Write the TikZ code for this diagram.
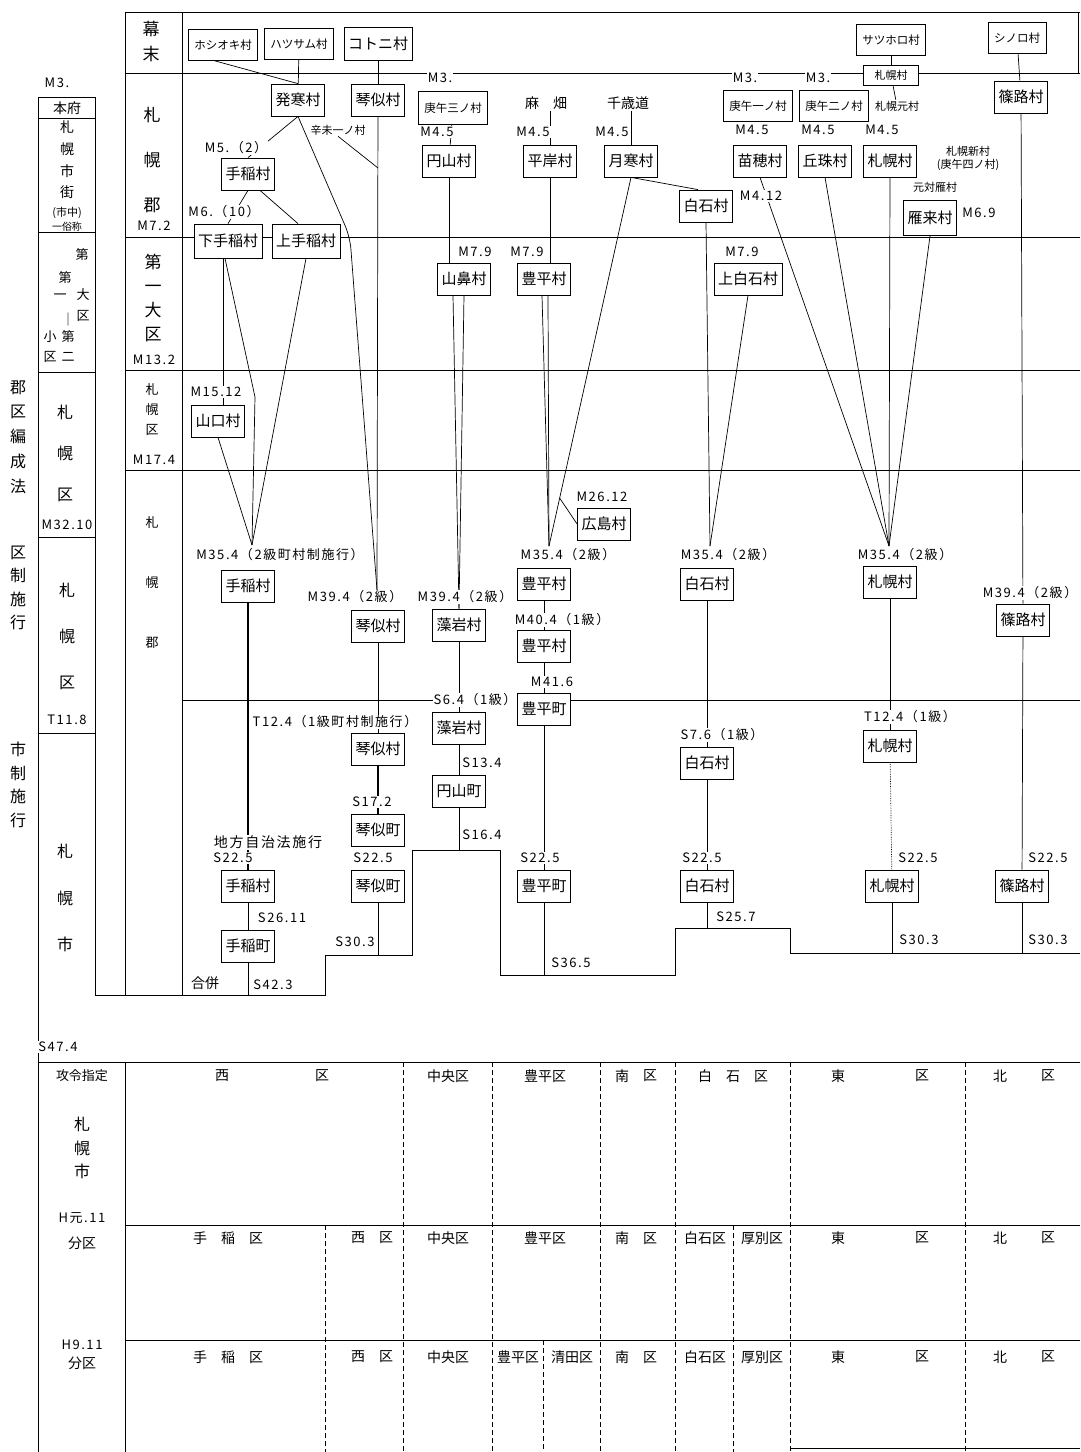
\documentclass[tikz,border=0pt]{standalone}
\usepackage{fontspec}
\setmainfont{Noto Sans CJK JP}
\newfontfamily\hizukefont[LetterSpace=12]{Noto Sans CJK JP}
\usetikzlibrary{calc}
\pgfdeclarelayer{background}
\pgfsetlayers{background,main}
\begin{document}
\begin{tikzpicture}[
        x=1pt, y=-1pt,
        mura/.style={draw, fill=white, line width=0.8pt, inner xsep=4pt, inner ysep=3pt, minimum height=32pt, font=\fontsize{15}{15}\selectfont},
        komura/.style={mura, inner xsep=6pt, minimum height=31pt, font=\fontsize{11.5}{12}\selectfont},
        hizuke/.style={fill=white, inner sep=1pt, font=\hizukefont\fontsize{13}{13}\selectfont},
        chu/.style={inner sep=1pt, align=center, font=\fontsize{11}{13}\selectfont},
        tate/.style={align=center, inner sep=0pt},
        ku/.style={inner sep=1pt, font=\fontsize{14}{14}\selectfont},
        kei/.style={line width=0.8pt},
        sen/.style={line width=0.7pt},
        kugiri/.style={line width=0.6pt, dash pattern=on 5pt off 3pt}
    ]
    \useasboundingbox (0,0) rectangle (1080,1452);

    % side headings
    \node[tate, font=\fontsize{16}{24.75}\selectfont] (gunku) at (18,437) {郡\\区\\編\\成\\法};
    \node[tate, font=\fontsize{16}{23.5}\selectfont] (kusei) at (18,588) {区\\制\\施\\行};
    \node[tate, font=\fontsize{16}{23.5}\selectfont] (shisei) at (18,785) {市\\制\\施\\行};

    \node[hizuke] (m3) at (57,83) {M3.};
    \node[font=\fontsize{14}{14}\selectfont] (honfu) at (67,108) {本府};
    \node[tate, font=\fontsize{14}{21.7}\selectfont] (shigai) at (67,160) {札\\幌\\市\\街};
    \node[font=\fontsize{11}{11}\selectfont] (shichu) at (67,213) {(市中)};
    \node[font=\fontsize{10}{10}\selectfont] (zokusho) at (67,227) {一俗称};
    \foreach \x/\y/\t [count=\i] in {82/255/第, 65/278/第, 60/297/一, 83/295/大, 83/316/区, 68/320/｜, 50/337/小, 68/337/第, 50/357/区, 68/357/二}
        \node[font=\fontsize{13}{13}\selectfont, inner sep=0pt] (dai\i) at (\x,\y) {\t};
    \node[tate, font=\fontsize{16}{41}\selectfont] (ku1) at (65,453) {札\\幌\\区};
    \node[hizuke] (m3210) at (67,525) {M32.10};
    \node[tate, font=\fontsize{16}{46}\selectfont] (ku2) at (67,636) {札\\幌\\区};
    \node[hizuke] (t118) at (67,720) {T11.8};
    \node[tate, font=\fontsize{16}{46.5}\selectfont] (shi1) at (65,898) {札\\幌\\市};

    \node[tate, font=\fontsize{17}{25}\selectfont] (bakumatsu) at (151,42) {幕\\末};
    \node[tate, font=\fontsize{17}{45}\selectfont] (gun1) at (152,160) {札\\幌\\郡};
    \node[hizuke] (m72) at (154,226) {M7.2};
    \node[tate, font=\fontsize{17}{24}\selectfont] (daiku) at (153,298) {第\\一\\大\\区};
    \node[hizuke] (m132) at (154,360) {M13.2};
    \node[tate, font=\fontsize{13}{20}\selectfont] (ku0) at (152,410) {札\\幌\\区};
    \node[hizuke] (m174) at (154,460) {M17.4};
    \node[tate, font=\fontsize{13}{60}\selectfont] (gun2) at (152,583) {札\\幌\\郡};

    % villages
    \node[komura] (hoshioki) at (223,45) {ホシオキ村};
    \node[komura] (hassamu0) at (299,44) {ハツサム村};
    \node[mura, minimum height=33pt] (kotoni0) at (378,44) {コトニ村};
    \node[komura] (satsuhoro0) at (891,40) {サツホロ村};
    \node[komura] (shinoro0) at (1017,38) {シノロ村};

    \node[mura] (hassamu) at (298,100) {発寒村};
    \node[mura] (kotoni) at (378,100) {琴似村};
    \node[chu] (shinbi) at (338,130) {辛未一ノ村};
    \node[hizuke] (m3a) at (440,78) {M3.};
    \node[komura, minimum height=33pt] (kogo3) at (453,108) {庚午三ノ村};
    \node[ku] (asahata) at (546,103) {麻　畑};
    \node[ku] (chitose) at (628,103) {千歳道};
    \node[hizuke] (m3b) at (745,78) {M3.};
    \node[hizuke] (m3c) at (818,78) {M3.};
    \node[mura, minimum height=20pt, minimum width=55pt, inner ysep=1pt, font=\fontsize{11}{11}\selectfont] (sapporo0) at (891,75) {札幌村};
    \node[komura] (kogo1) at (758,106) {庚午一ノ村};
    \node[komura] (kogo2) at (834,106) {庚午二ノ村};
    \node[chu] (motomura) at (897,106) {札幌元村};
    \node[mura] (shinoro) at (1021,97) {篠路村};

    \node[hizuke] (m5) at (236,148) {M5.（2）};
    \node[mura] (teine) at (248,174) {手稲村};
    \node[hizuke] (m6) at (224,212) {M6.（10）};
    \node[mura, minimum height=34pt] (shimoteine) at (228,241) {下手稲村};
    \node[mura, minimum height=34pt] (kamiteine) at (306,241) {上手稲村};
    \node[hizuke] (m45a) at (437,132) {M4.5};
    \node[mura] (maruyama) at (449,161) {円山村};
    \node[hizuke] (m45b) at (533,132) {M4.5};
    \node[mura] (hiragishi) at (550,161) {平岸村};
    \node[hizuke] (m45c) at (612,132) {M4.5};
    \node[mura] (tsukisamu) at (631,161) {月寒村};
    \node[mura] (shiroishi) at (706,206) {白石村};
    \node[hizuke] (m412) at (761,196) {M4.12};
    \node[hizuke] (m45d) at (752,130) {M4.5};
    \node[mura] (naebo) at (760,161) {苗穂村};
    \node[hizuke] (m45e) at (818,130) {M4.5};
    \node[mura] (okadama) at (825,161) {丘珠村};
    \node[hizuke] (m45f) at (882,130) {M4.5};
    \node[mura] (sapporo) at (890,161) {札幌村};
    \node[chu] (shinmura) at (968,158) {札幌新村\\(庚午四ノ村)};
    \node[chu] (tsuishikari) at (935,187) {元対雁村};
    \node[mura, minimum height=35pt] (kariki) at (930,218) {雁来村};
    \node[hizuke] (m69) at (979,213) {M6.9};

    \node[hizuke] (m79a) at (475,252) {M7.9};
    \node[mura] (yamahana) at (464,279) {山鼻村};
    \node[hizuke] (m79b) at (527,252) {M7.9};
    \node[mura] (toyohira1) at (544,279) {豊平村};
    \node[hizuke] (m79c) at (742,252) {M7.9};
    \node[mura] (kamishiroishi) at (748,279) {上白石村};

    \node[hizuke] (m1512) at (216,392) {M15.12};
    \node[mura] (yamaguchi) at (218,421) {山口村};

    \node[hizuke] (m2612) at (602,497) {M26.12};
    \node[mura] (hiroshima) at (604,524) {広島村};
    \node[hizuke] (m354a) at (280,555) {M35.4（2級町村制施行）};
    \node[mura] (teine2) at (248,586) {手稲村};
    \node[hizuke] (m354b) at (568,555) {M35.4（2級）};
    \node[mura] (toyohira2) at (544,584) {豊平村};
    \node[hizuke] (m404) at (562,620) {M40.4（1級）};
    \node[mura] (toyohira3) at (544,646) {豊平村};
    \node[hizuke] (m416) at (552,682) {M41.6};
    \node[mura] (toyohiracho) at (544,709) {豊平町};
    \node[hizuke] (m354c) at (728,555) {M35.4（2級）};
    \node[mura] (shiroishi2) at (707,584) {白石村};
    \node[hizuke] (m354d) at (905,555) {M35.4（2級）};
    \node[mura] (sapporo2) at (890,582) {札幌村};
    \node[hizuke] (m394a) at (355,597) {M39.4（2級）};
    \node[mura] (kotoni2) at (378,626) {琴似村};
    \node[hizuke] (m394b) at (465,597) {M39.4（2級）};
    \node[mura] (moiwa) at (459,625) {藻岩村};
    \node[hizuke] (m394c) at (1030,593) {M39.4（2級）};
    \node[mura] (shinoro2) at (1023,620) {篠路村};

    \node[hizuke] (t124a) at (335,722) {T12.4（1級町村制施行）};
    \node[mura] (kotoni3) at (378,749) {琴似村};
    \node[hizuke] (s64) at (475,700) {S6.4（1級）};
    \node[mura] (moiwa2) at (459,728) {藻岩村};
    \node[hizuke] (s134) at (482,763) {S13.4};
    \node[mura] (maruyamacho) at (459,791) {円山町};
    \node[hizuke] (s172) at (372,802) {S17.2};
    \node[mura] (kotonicho) at (378,830) {琴似町};
    \node[hizuke] (s76) at (722,735) {S7.6（1級）};
    \node[mura] (shiroishi3) at (707,763) {白石村};
    \node[hizuke] (t124b) at (910,717) {T12.4（1級）};
    \node[mura] (sapporo3) at (890,746) {札幌村};

    \node[hizuke, font=\hizukefont\fontsize{14}{14}\selectfont] (chiho) at (268,842) {地方自治法施行};
    \node[hizuke] (s225a) at (233,858) {S22.5};
    \node[mura] (teine3) at (248,886) {手稲村};
    \node[hizuke] (s2611) at (282,918) {S26.11};
    \node[mura] (teinecho) at (248,946) {手稲町};
    \node[ku] (gappei) at (205,983) {合併};
    \node[hizuke] (s423) at (273,985) {S42.3};
    \node[hizuke] (s225b) at (373,858) {S22.5};
    \node[mura] (kotonicho2) at (378,886) {琴似町};
    \node[hizuke] (s303a) at (355,942) {S30.3};
    \node[hizuke] (s164) at (482,835) {S16.4};
    \node[hizuke] (s225c) at (540,858) {S22.5};
    \node[mura] (toyohiracho2) at (544,886) {豊平町};
    \node[hizuke] (s365) at (571,963) {S36.5};
    \node[hizuke] (s225d) at (702,858) {S22.5};
    \node[mura] (shiroishi4) at (707,886) {白石村};
    \node[hizuke] (s257) at (736,917) {S25.7};
    \node[hizuke] (s225e) at (918,858) {S22.5};
    \node[mura] (sapporo4) at (892,886) {札幌村};
    \node[hizuke] (s303b) at (919,940) {S30.3};
    \node[hizuke] (s225f) at (1048,858) {S22.5};
    \node[mura] (shinoro3) at (1022,886) {篠路村};
    \node[hizuke] (s303c) at (1048,940) {S30.3};

    % wards after 1972
    \node[hizuke] (s474) at (58,1047) {S47.4};
    \node[font=\fontsize{13}{13}\selectfont] (seirei) at (82,1076) {攻令指定};
    \node[tate, font=\fontsize{16}{23.5}\selectfont] (shi2) at (82,1148) {札\\幌\\市};
    \node[hizuke] (h1) at (82,1218) {H元.11};
    \node[ku] (bunku1) at (82,1243) {分区};
    \node[hizuke] (h9) at (82,1345) {H9.11};
    \node[ku] (bunku2) at (82,1363) {分区};
    \foreach \x/\t [count=\i] in {222/西, 322/区, 448/中央区, 545/豊平区, 622/南, 650/区, 733/白　石　区, 838/東, 922/区, 1000/北, 1048/区}
        \node[ku] (ichi\i) at (\x,1076) {\t};
    \foreach \x/\t [count=\i] in {228/手　稲　区, 372/西　区, 448/中央区, 545/豊平区, 636/南　区, 705/白石区, 762/厚別区, 838/東, 922/区, 1000/北, 1048/区}
        \node[ku] (ni\i) at (\x,1238) {\t};
    \foreach \x/\t [count=\i] in {228/手　稲　区, 372/西　区, 448/中央区, 518/豊平区, 572/清田区, 636/南　区, 705/白石区, 762/厚別区, 838/東, 922/区, 1000/北, 1048/区}
        \node[ku] (san\i) at (\x,1357) {\t};

    \coordinate (teineJ) at (252,545);
    \coordinate (kotoniJ) at (377,590);
    \coordinate (toyohiraJ) at (549,546);
    \coordinate (shiroishiJ) at (710,546);
    \coordinate (sapporoJ) at (889,546);

    \begin{pgfonlayer}{background}
    % frame and rows
    \draw[kei] (125,12) -- (1080,12);
    \draw[kei] (1078,12) -- (1078,73);
    \draw[kei] (125,12) -- (125,995);
    \draw[kei] (182,12) -- (182,995);
    \foreach \y in {73,237,370,470}
        \draw[kei] (125,\y) -- (1080,\y);
    \draw[kei] (182,700) -- (1080,700);
    \draw[kei] (38,97) -- (38,1452);
    \draw[kei] (95,97) -- (95,995);
    \foreach \y in {97,118,232,372,537,733}
        \draw[kei] (38,\y) -- (95,\y);
    \draw[kei] (95,995) -- (325,995) -- (325,955) -- (412,955) -- (412,850) -- (500,850) -- (500,975)
        -- (675,975) -- (675,928) -- (790,928) -- (790,953) -- (1080,953);
    \draw[kei] (38,1062) -- (1080,1062);
    \draw[kei] (125,1062) -- (125,1452);
    \draw[kei] (125,1225) -- (1080,1225);
    \draw[kei] (125,1340) -- (1080,1340);
    \draw[kei] (790,1448) -- (1080,1448);
    \foreach \x in {403,492,600,675,790,965}
        \draw[kugiri] (\x,1062) -- (\x,1452);
    \foreach \x in {325,733}
        \draw[kugiri] (\x,1225) -- (\x,1452);
    \draw[kugiri] (543,1340) -- (543,1452);

    % lineage
    \draw[sen] ([xshift=-8pt]hoshioki.south) -- (hassamu.north);
    \draw[sen] (hassamu0) -- (hassamu);
    \draw[sen] (kotoni0) -- (kotoni);
    \draw[sen] (hassamu.south) -- (teine.north);
    \draw[sen, rounded corners=12pt] (hassamu.south) -- (350,237) -- (kotoniJ);
    \draw[sen] (kotoni) -- (kotoniJ);
    \draw[sen] (shinbi.south) -- (kotoni.south |- 0,168);
    \draw[sen] (teine.south) -- (shimoteine.north);
    \draw[sen] ([xshift=12pt]teine.south) -- ([xshift=-8pt]kamiteine.north);
    \draw[sen] ([xshift=-5pt]shimoteine.south) -- ([xshift=5pt]yamaguchi.north);
    \draw[sen] ([xshift=-3pt]shimoteine.south) -- (255,397) -- (teineJ);
    \draw[sen] (kamiteine.south) -- (teineJ);
    \draw[sen] (yamaguchi.south) -- (teineJ);
    \draw[line width=1.3pt] (teine2) -- (teine3);
    \draw[sen] (teine3) -- (teinecho);
    \draw[sen] (teinecho) -- (teinecho |- 0,995);

    \draw[sen] (kotoni2) -- (kotoni3);
    \draw[line width=1.3pt] (kotoni3) -- (kotonicho);
    \draw[sen] (kotonicho2) -- (kotonicho2 |- 0,955);

    \draw[sen] (kogo3) -- (maruyama);
    \draw[sen] (maruyama) -- (maruyama |- yamahana.north);
    \draw[sen] ([xshift=-11pt]yamahana.south) -- (moiwa.north);
    \draw[sen] (yamahana.south) -- (moiwa.north);
    \draw[sen] (moiwa) -- (moiwa2);
    \draw[sen] (moiwa2) -- (maruyamacho);
    \draw[sen] (maruyamacho) -- (maruyamacho |- 0,850);

    \draw[sen] (hiragishi.north |- asahata.south) -- (hiragishi.north);
    \draw[sen] (tsukisamu.north |- chitose.south) -- (tsukisamu.north);
    \draw[sen] (hiragishi.south) -- (hiragishi.south |- toyohira1.north);
    \draw[sen] ([xshift=-2pt]toyohira1.south) -- (toyohiraJ);
    \draw[sen] ([xshift=4pt]toyohira1.south) -- (toyohiraJ);
    \draw[sen] (tsukisamu.south) -- (toyohiraJ);
    \draw[sen] (tsukisamu.south) -- ([xshift=-8pt]shiroishi.north);
    \draw[sen] ($(tsukisamu.south)!0.87!(toyohiraJ)$) -- (hiroshima.west);
    \draw[sen] (toyohira2) -- (toyohira3);
    \draw[sen] (toyohira3) -- (toyohiracho);
    \draw[sen] (toyohiracho) -- (toyohiracho2);
    \draw[sen] (toyohiracho2) -- (toyohiracho2 |- 0,975);

    \draw[sen] (shiroishi.south) -- (shiroishiJ);
    \draw[sen] (kamishiroishi.south) -- (shiroishiJ);
    \draw[sen] (shiroishi2) -- (shiroishi3);
    \draw[sen] (shiroishi3) -- (shiroishi4);
    \draw[sen] (shiroishi4) -- (shiroishi4 |- 0,928);

    \draw[sen] (satsuhoro0) -- (sapporo0);
    \draw[sen] (sapporo0) -- (motomura);
    \foreach \m in {naebo,okadama,sapporo,kariki}
        \draw[sen] (\m.south) -- (sapporoJ);
    \draw[sen] (sapporo2) -- (sapporo3);
    \draw[sen, densely dotted] (sapporo3) -- (sapporo4);
    \draw[sen] (sapporo4) -- (sapporo4 |- 0,953);

    \draw[sen] (shinoro0) -- (shinoro);
    \draw[sen] (shinoro) -- (shinoro2);
    \draw[sen] (shinoro2) -- (shinoro3);
    \draw[sen] (shinoro3) -- (shinoro3 |- 0,953);
    \end{pgfonlayer}
\end{tikzpicture}
\end{document}
